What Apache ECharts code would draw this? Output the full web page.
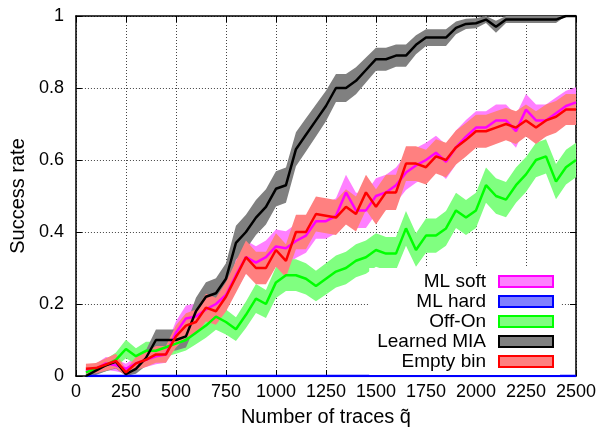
<!DOCTYPE html>
<html><head><meta charset="utf-8">
<script src="https://cdn.jsdelivr.net/npm/echarts@6/dist/echarts.min.js"></script>
<style>html,body{margin:0;padding:0;background:#fff}#c{width:602px;height:434px}</style>
</head><body><div id="c"></div>
<script>
const traces = [50,100,150,200,250,300,350,400,450,500,
  550,600,650,700,750,800,850,900,950,1000,
  1050,1100,1150,1200,1250,1300,1350,1400,1450,1500,
  1550,1600,1650,1700,1750,1800,1850,1900,1950,2000,
  2050,2100,2150,2200,2250,2300,2350,2400,2450,2500];

const mlSoft = [0.015,0.02,0.035,0.03,0.02,0.035,0.045,0.055,0.06,0.12,
  0.16,0.165,0.185,0.20,0.225,0.28,0.33,0.315,0.33,0.36,
  0.355,0.375,0.39,0.43,0.43,0.445,0.51,0.46,0.46,0.50,
  0.51,0.53,0.565,0.585,0.60,0.62,0.595,0.635,0.665,0.69,
  0.69,0.71,0.71,0.68,0.74,0.71,0.71,0.73,0.75,0.76];

const mlHard = [0,0,0,0,0,0,0,0,0,0,
  0,0,0,0,0,0,0,0,0,0,
  0,0,0,0,0,0,0,0,0,0,
  0,0,0,0,0,0,0,0,0,0,
  0,0,0,0,0,0,0,0,0,0];

const offOn = [0.01,0.02,0.03,0.045,0.075,0.055,0.07,0.07,0.08,0.09,
  0.10,0.12,0.14,0.165,0.15,0.13,0.17,0.215,0.20,0.26,
  0.28,0.28,0.27,0.25,0.27,0.29,0.30,0.32,0.33,0.35,
  0.34,0.34,0.41,0.35,0.39,0.39,0.41,0.46,0.44,0.46,
  0.53,0.50,0.49,0.53,0.56,0.60,0.61,0.54,0.58,0.60];

const learnedMIA = [0.00,0.015,0.03,0.04,0.005,0.02,0.05,0.10,0.10,0.10,
  0.11,0.18,0.22,0.23,0.27,0.37,0.40,0.44,0.47,0.52,
  0.53,0.63,0.67,0.71,0.75,0.80,0.80,0.82,0.85,0.88,
  0.88,0.89,0.89,0.92,0.94,0.94,0.94,0.967,0.978,0.98,
  0.99,0.97,0.99,0.99,0.99,0.99,0.99,0.99,1.0,1.0];

const emptyBin = [0.02,0.022,0.032,0.042,0.01,0.035,0.045,0.06,0.06,0.11,
  0.14,0.15,0.19,0.18,0.22,0.275,0.33,0.30,0.30,0.35,
  0.32,0.40,0.40,0.45,0.445,0.44,0.47,0.45,0.51,0.47,
  0.51,0.51,0.59,0.59,0.58,0.61,0.60,0.635,0.656,0.68,
  0.68,0.69,0.70,0.69,0.71,0.69,0.71,0.72,0.74,0.74];

// confidence band derived from the success rate (binomial, 95%)
const TRIALS = 400;

const FONT = '"Liberation Sans", Arial, Helvetica, sans-serif';

const seriesDefs = [
  {name:'ML soft', vals: mlSoft, line:'#ff00ff', fill:'#ff80ff'},
  {name:'ML hard', vals: mlHard, line:'#0000ff', fill:'#8080ff'},
  {name:'Off-On', vals: offOn, line:'#00ff00', fill:'#80ff80'},
  {name:'Learned MIA', vals: learnedMIA, line:'#000000', fill:'#808080'},
  {name:'Empty bin', vals: emptyBin, line:'#ff0000', fill:'#ff8080'}
];

const series = [];
seriesDefs.forEach(d => {
  const half = d.vals.map(p => 1.96 * Math.sqrt(p * (1 - p) / TRIALS));
  const lower = d.vals.map((p, i) => Math.max(0, p - half[i]));
  const upper = d.vals.map((p, i) => Math.min(1, p + half[i]));
  series.push({
    name: d.name + ' band', type: 'custom', silent: true, z: 1,
    data: traces.map((x, i) => [x, lower[i], upper[i]]),
    encode: {x: 0, y: [1, 2]},
    renderItem: (params, api) => {
      if (params.dataIndex !== 0) return null;
      const pts = [];
      for (let i = 0; i < traces.length; i++) pts.push(api.coord([traces[i], upper[i]]));
      for (let i = traces.length - 1; i >= 0; i--) pts.push(api.coord([traces[i], lower[i]]));
      return {type: 'polygon', shape: {points: pts}, style: {fill: d.fill, stroke: null}};
    }
  });
});
seriesDefs.forEach(d => {
  series.push({
    name: d.name, type: 'line', symbol: 'none', silent: true,
    data: traces.map((x, i) => [x, d.vals[i]]),
    lineStyle: {color: d.line, width: 2.5}, itemStyle: {color: d.fill}, z: 3
  });
});

const chart = echarts.init(document.getElementById('c'), null, {renderer: 'canvas'});
const axisLine = {show: true, onZero: false, lineStyle: {color: '#000', width: 1.5}};
const tick = {show: true, inside: true, length: 6, lineStyle: {color: '#000', width: 1}};
const split = {show: true, lineStyle: {color: '#444', type: [1, 2], width: 1}};
chart.setOption({
  animation: false,
  backgroundColor: '#fff',
  grid: {left: 70, right: 26, top: 16, bottom: 58, containLabel: false},
  xAxis: [{
    type: 'value', min: 0, max: 2500, interval: 250, position: 'bottom',
    name: 'Number of traces q\u0303', nameLocation: 'middle', nameGap: 31,
    nameTextStyle: {fontFamily: FONT, fontSize: 20, color: '#000'},
    axisLine: axisLine, axisTick: tick, splitLine: split,
    axisLabel: {fontFamily: FONT, fontSize: 18, color: '#000', margin: 7, formatter: v => String(v)}
  }, {
    type: 'value', min: 0, max: 2500, interval: 250, position: 'top',
    axisLine: axisLine, axisTick: tick, splitLine: {show: false}, axisLabel: {show: false}
  }],
  yAxis: [{
    type: 'value', min: 0, max: 1, interval: 0.2, position: 'left',
    name: 'Success rate', nameLocation: 'middle', nameGap: 44, nameRotate: 90,
    nameTextStyle: {fontFamily: FONT, fontSize: 20, color: '#000'},
    axisLine: axisLine, axisTick: tick, splitLine: split,
    axisLabel: {fontFamily: FONT, fontSize: 18, color: '#000', margin: 12, formatter: v => String(v)}
  }, {
    type: 'value', min: 0, max: 1, interval: 0.2, position: 'right',
    axisLine: axisLine, axisTick: tick, splitLine: {show: false}, axisLabel: {show: false}
  }],
  legend: {
    orient: 'vertical', right: 42, top: 268, align: 'right',
    itemWidth: 54, itemHeight: 11, itemGap: 1,
    backgroundColor: '#fff', padding: [4, 6, 4, 8], selectedMode: false,
    textStyle: {fontFamily: FONT, fontSize: 19, color: '#000', padding: [0, 8, 0, 0]},
    data: seriesDefs.map(d => ({
      name: d.name, icon: 'rect',
      itemStyle: {color: d.fill, borderColor: d.line, borderWidth: 2}
    }))
  },
  series: series
});
</script>
</body></html>
